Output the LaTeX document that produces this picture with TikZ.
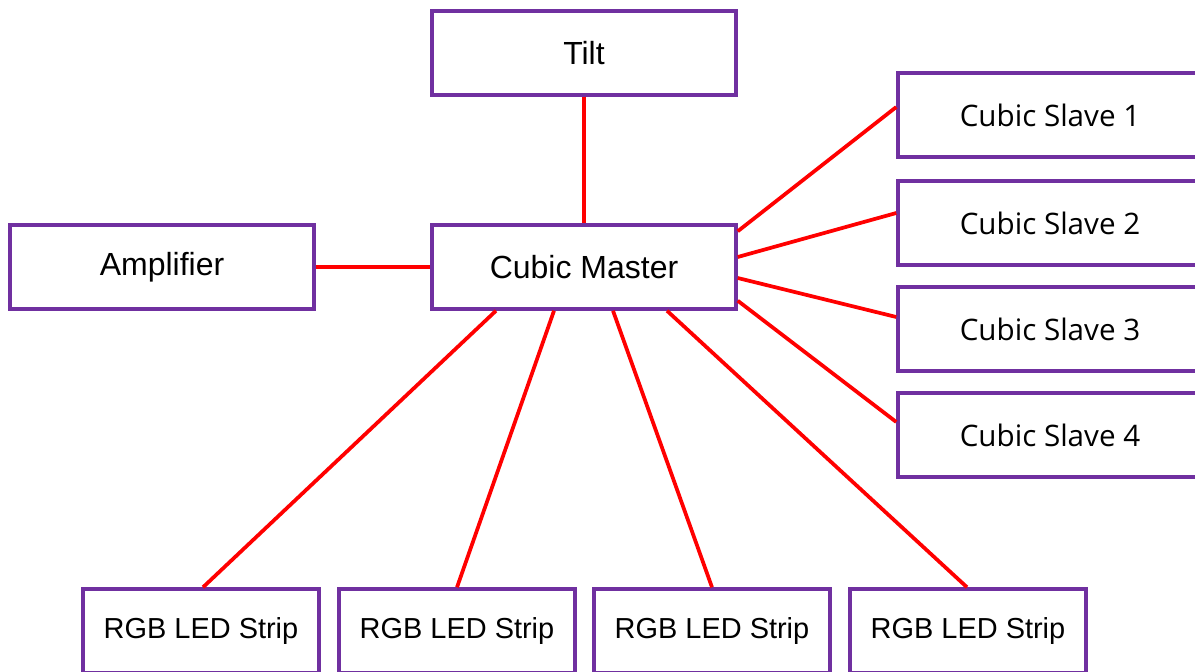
\documentclass[tikz,border=0pt]{standalone}
\usepackage{fontspec}
\setmainfont{Liberation Sans}
\newfontfamily\slavefont{Open Sans}
\usetikzlibrary{calc}
\definecolor{boxpurple}{HTML}{7030A0}
\definecolor{linkred}{HTML}{FF0000}
\begin{document}
\begin{tikzpicture}[x=0.75pt,y=-0.75pt,
  box/.style={draw=boxpurple,line width=2.6pt,fill=white,rectangle,inner sep=0pt,
    minimum width=228pt,minimum height=63pt,font=\fontsize{24}{28}\selectfont},
  slavebox/.style={box,font=\slavefont\fontsize{22.2}{26}\selectfont},
  ledbox/.style={box,minimum width=177pt,font=\fontsize{21.7}{25}\selectfont},
  link/.style={draw=linkred,line width=2.8pt}]
\path[use as bounding box,clip] (0,0) rectangle (1195,671);
\fill[white] (0,0) rectangle (1195,671);
\node[box] (tilt) at (584,53) {Tilt};
\node[box] (master) at (584,267) {Cubic Master};
\node[box] (amp) at (162,267) {Amplifier};
\node[slavebox] (s1) at (1050,115) {Cubic Slave 1};
\node[slavebox] (s2) at (1050,223) {Cubic Slave 2};
\node[slavebox] (s3) at (1050,329) {Cubic Slave 3};
\node[slavebox] (s4) at (1050,435) {Cubic Slave 4};
\node[ledbox] (r1) at (201,631) {RGB LED Strip};
\node[ledbox] (r2) at (457,631) {RGB LED Strip};
\node[ledbox] (r3) at (712,631) {RGB LED Strip};
\node[ledbox] (r4) at (968,631) {RGB LED Strip};
\draw[link] (tilt.south) -- (master.north);
\draw[link] (amp.east) -- (master.west);
\draw[link] ($(master.north east)+(0,8)$) -- ($(s1.west)+(0,-8)$);
\draw[link] ($(master.east)+(0,-10)$) -- ($(s2.west)+(0,-10)$);
\draw[link] ($(master.east)+(0,11)$) -- ($(s3.west)+(0,-12)$);
\draw[link] ($(master.south east)+(0,-10)$) -- ($(s4.west)+(0,-13)$);
\draw[link] ($(master.south)+(-88,0)$) -- ($(r1.north)+(2,0)$);
\draw[link] ($(master.south)+(-30,0)$) -- (r2.north);
\draw[link] ($(master.south)+(29,0)$) -- (r3.north);
\draw[link] ($(master.south)+(83,0)$) -- ($(r4.north)+(-1,0)$);
\end{tikzpicture}
\end{document}
